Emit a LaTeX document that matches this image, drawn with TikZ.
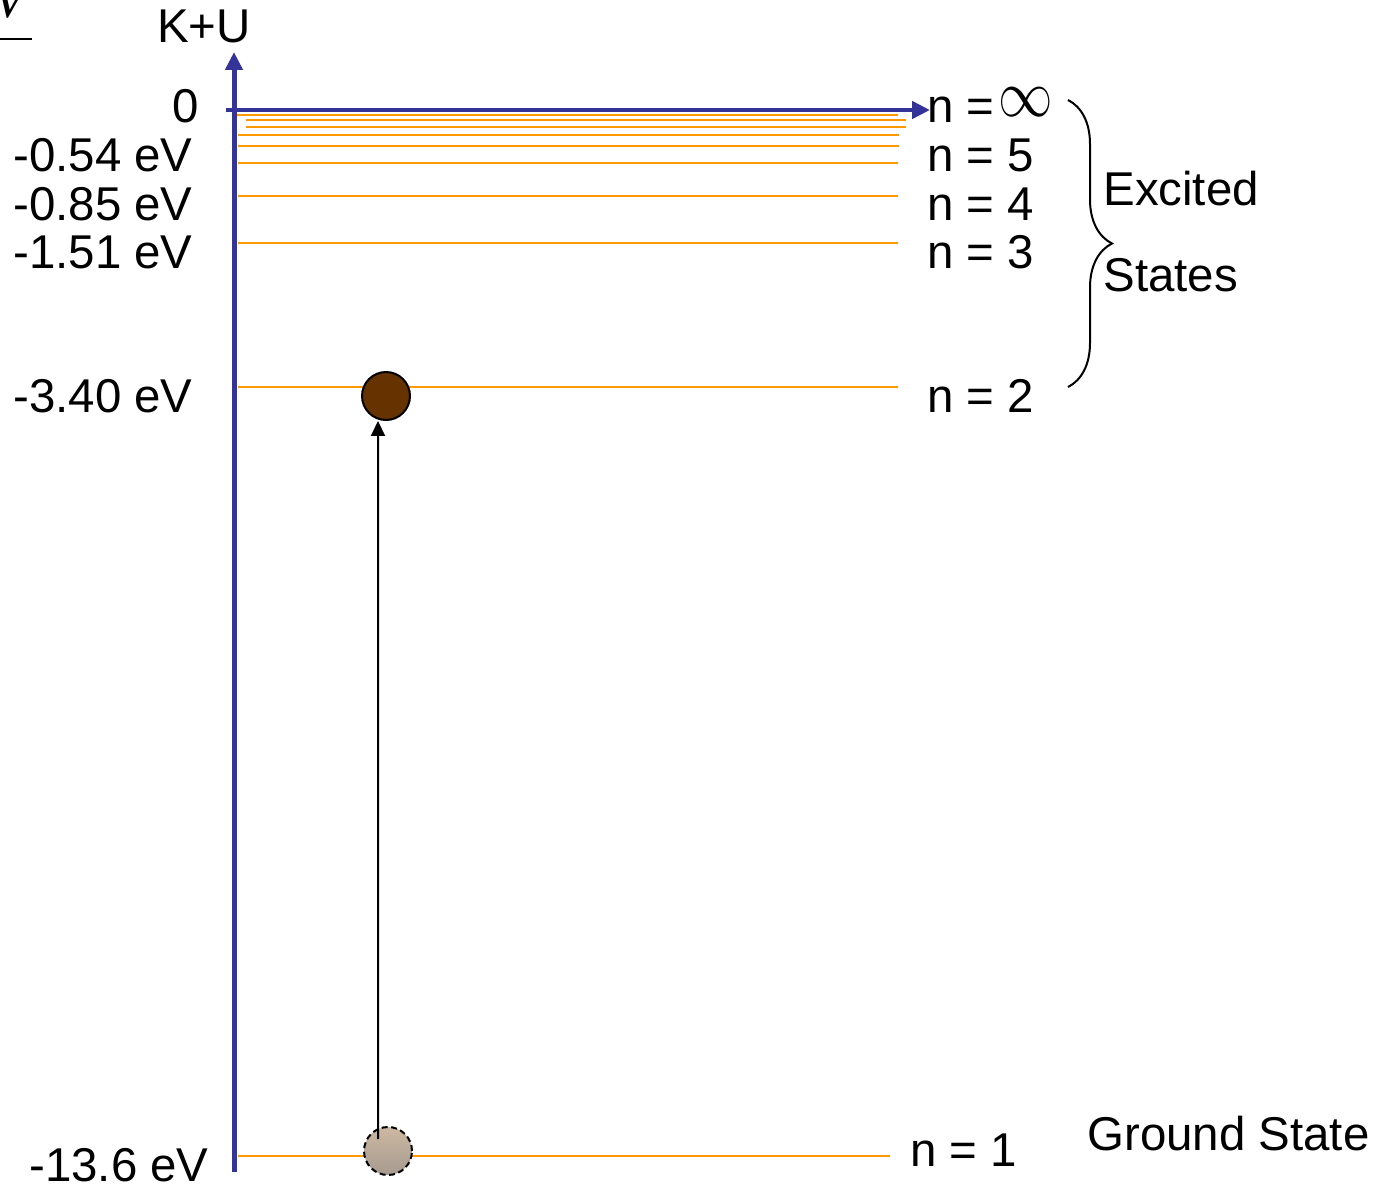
\documentclass[tikz,border=0pt]{standalone}
\usepackage{fontspec}
\setmainfont{Liberation Sans}
\newfontfamily\serifit{Liberation Serif}
\usetikzlibrary{positioning,arrows.meta,decorations.pathreplacing}
\definecolor{lvBlue}{HTML}{333399}
\definecolor{lvOrange}{HTML}{FF9900}
\definecolor{lvBrown}{HTML}{663300}
\definecolor{lvTanTop}{HTML}{CDB8A2}
\definecolor{lvTanBot}{HTML}{A69A8F}
\tikzset{
  lbl/.style={inner sep=0pt, font=\fontsize{27}{30}\selectfont, text=black},
  axis/.style={line width=0.1cm, lvBlue, -{Triangle[length=0.36cm,width=0.34cm]}},
  level/.style={line width=0.04cm, lvOrange},
  electron/.style={circle, draw=black, line width=0.04cm, fill=lvBrown,
    minimum size=0.96cm, inner sep=0pt},
  ghost/.style={circle, draw=black, line width=0.04cm, dash pattern=on 0.12cm off 0.07cm,
    top color=lvTanTop, bottom color=lvTanBot, minimum size=0.96cm, inner sep=0pt},
  jump/.style={-{Triangle[length=0.3cm,width=0.28cm]}, line width=0.04cm, black},
  brc/.style={decorate, decoration={brace, amplitude=0.88cm}, line width=0.04cm, black},
}

\begin{document}
\begin{tikzpicture}[x=0.02cm, y=-0.02cm]
\useasboundingbox (0,0) rectangle (1389,1186);

% ---------- cut-off fragment at the top left ----------
\node[lbl, anchor=base, font=\fontsize{30}{30}\selectfont\serifit\itshape] (frag) at (10,18) {V};
\draw[line width=0.04cm] (0,39) -- (32,39);

% ---------- energy levels ----------
\foreach \y/\xa/\xb in {115/237/898, 120/246/906, 127/246/906, 135/238/899,
                        146/238/899, 163/238/898, 196/238/898, 243/238/898,
                        387/238/898, 1156/238/890}
  \draw[level] (\xa,\y) -- (\xb,\y);

% ---------- axes ----------
\coordinate (ybot) at (234,1172);
\coordinate (ytop) at (234,52);
\coordinate (xleft) at (226,110);
\coordinate (xright) at (930,110);
\draw[axis] (ybot) -- (ytop);
\draw[axis] (xleft) -- (xright);
\node[lbl, anchor=base] (ku) at (204,43) {K+U};

% ---------- energies ----------
\node[lbl, anchor=base east] (e0) at (199,123) {0};
\node[lbl, anchor=base east] (e5) at (193,172) {-0.54 eV};
\node[lbl, anchor=base east] (e4) at (193,220) {-0.85 eV};
\node[lbl, anchor=base east] (e3) at (193,268) {-1.51 eV};
\node[lbl, anchor=base east] (e2) at (193,412) {-3.40 eV};
\node[lbl, anchor=base east] (e1) at (209,1181) {-13.6 eV};

% ---------- quantum numbers ----------
\node[lbl, anchor=base west] (ninf) at (927,123) {n =};
\node[inner sep=0pt, font=\normalsize] (inf) at (1026,102)
  {\scalebox{3.1}[3.8]{$\infty$}};
\node[lbl, anchor=base west] (n5) at (927,172) {n = 5};
\node[lbl, anchor=base west] (n4) at (927,220) {n = 4};
\node[lbl, anchor=base west] (n3) at (927,268) {n = 3};
\node[lbl, anchor=base west] (n2) at (927,412) {n = 2};
\node[lbl, anchor=base west] (n1) at (910,1166) {n = 1};

% ---------- states ----------
\coordinate (brtop) at (1068,100);
\coordinate (brbot) at (1068,387);
\draw[brc] (brtop) -- (brbot);
\node[lbl, anchor=base west] (exc) at (1103,205) {Excited};
\node[lbl, anchor=base west] (sts) at (1103,291) {States};
\node[lbl, anchor=base west] (gnd) at (1087,1150) {Ground State};

% ---------- electron ----------
\node[ghost] (ground) at (388,1151) {};
\node[electron] (excited) at (386,396) {};
\draw[jump] ([xshift=-0.2cm,yshift=0.24cm]ground.center) -- ([xshift=-0.16cm]excited.south);

\end{tikzpicture}
\end{document}
